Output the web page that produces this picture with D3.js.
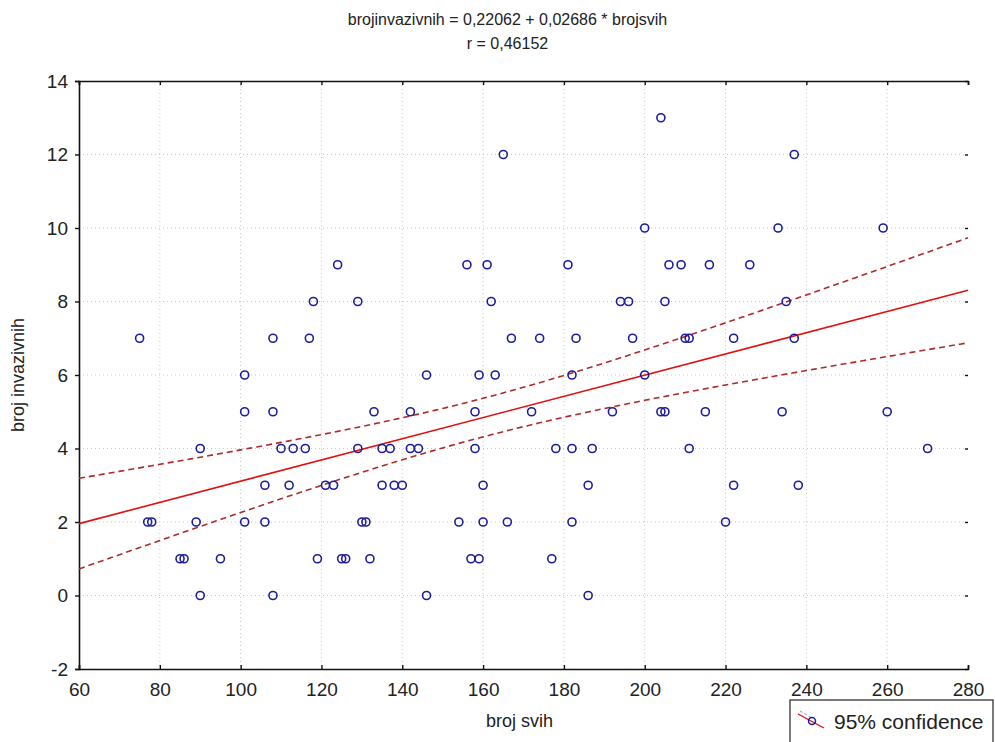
<!DOCTYPE html>
<html>
<head>
<meta charset="utf-8">
<script src="https://cdn.jsdelivr.net/npm/d3@7"></script>
<style>
  body { margin: 0; background: #fff; }
  text { font-family: "Liberation Sans", Arial, sans-serif; fill: #222; }
</style>
</head>
<body>
<script>
// broj svih (x) / broj invazivnih (y)
var brojSvih = [204,
	165, 237,
	200, 233, 259,
	124, 156, 161, 181, 206, 209, 216, 226,
	118, 129, 162, 194, 196, 205, 235,
	75, 108, 117, 167, 174, 183, 197, 210, 211, 222, 237,
	101, 146, 159, 163, 182, 200,
	101, 108, 133, 142, 158, 172, 192, 204, 205, 215, 234, 260,
	90, 110, 113, 116, 129, 135, 137, 142, 144, 158, 178, 182, 187, 211, 270,
	106, 112, 121, 123, 135, 138, 140, 160, 186, 222, 238,
	77, 78, 89, 101, 106, 130, 131, 154, 160, 166, 182, 220,
	85, 86, 95, 119, 125, 126, 132, 157, 159, 177,
	90, 108, 146, 186];
var brojInvazivnih = [13,
	12, 12,
	10, 10, 10,
	9, 9, 9, 9, 9, 9, 9, 9,
	8, 8, 8, 8, 8, 8, 8,
	7, 7, 7, 7, 7, 7, 7, 7, 7, 7, 7,
	6, 6, 6, 6, 6, 6,
	5, 5, 5, 5, 5, 5, 5, 5, 5, 5, 5, 5,
	4, 4, 4, 4, 4, 4, 4, 4, 4, 4, 4, 4, 4, 4, 4,
	3, 3, 3, 3, 3, 3, 3, 3, 3, 3, 3,
	2, 2, 2, 2, 2, 2, 2, 2, 2, 2, 2, 2,
	1, 1, 1, 1, 1, 1, 1, 1, 1, 1,
	0, 0, 0, 0];
var xTicks = [60, 80, 100, 120, 140, 160, 180, 200, 220, 240, 260, 280];
var yTicks = [-2, 0, 2, 4, 6, 8, 10, 12, 14];
var titleLines = ["brojinvazivnih = 0,22062 + 0,02686 * brojsvih", "r = 0,46152"];

var W = 995, H = 742;
var margin = {top: 81, right: 27, bottom: 73, left: 79};
var width = W - margin.left - margin.right,
	height = H - margin.top - margin.bottom;

var svg = d3.select("body").append("svg")
	.attr("width", W)
	.attr("height", H);

var x = d3.scaleLinear().domain([60, 280]).range([margin.left, margin.left + width]);
var y = d3.scaleLinear().domain([-2, 14]).range([margin.top + height, margin.top]);
var plain = function(d) { return String(d); };

// grid
svg.append("g").selectAll("line")
	.data(xTicks.slice(1, -1))
	.enter().append("line")
	.attr("x1", function(d) { return x(d); })
	.attr("x2", function(d) { return x(d); })
	.attr("y1", y(14)).attr("y2", y(-2))
	.attr("stroke", "#c8c8c8").attr("stroke-dasharray", "1,3");
svg.append("g").selectAll("line")
	.data(yTicks.slice(1, -1))
	.enter().append("line")
	.attr("x1", x(60)).attr("x2", x(280))
	.attr("y1", function(d) { return y(d); })
	.attr("y2", function(d) { return y(d); })
	.attr("stroke", "#c8c8c8").attr("stroke-dasharray", "1,3");

// axes
var axBottom = svg.append("g")
	.attr("transform", "translate(0," + y(-2) + ")")
	.call(d3.axisBottom(x).tickValues(xTicks).tickSize(-4).tickPadding(18).tickFormat(plain));
var axTop = svg.append("g")
	.attr("transform", "translate(0," + y(14) + ")")
	.call(d3.axisTop(x).tickValues(xTicks).tickSize(-4).tickFormat(""));
var axLeft = svg.append("g")
	.attr("transform", "translate(" + x(60) + ",0)")
	.call(d3.axisLeft(y).tickValues(yTicks).tickSize(4).tickPadding(7).tickFormat(plain));
var axRight = svg.append("g")
	.attr("transform", "translate(" + x(280) + ",0)")
	.call(d3.axisRight(y).tickValues(yTicks).tickSize(-3).tickFormat(""));
axRight.select(".domain").remove();
[axBottom, axTop, axLeft].forEach(function(a) {
	a.select(".domain").attr("stroke", "#111").attr("stroke-width", 1.6);
});
svg.selectAll(".tick line").attr("stroke", "#111").attr("stroke-width", 1.4);
svg.selectAll(".tick text")
	.style("font-family", "'Liberation Sans', Arial, sans-serif")
	.style("font-size", "19px")
	.attr("fill", "#333");
axBottom.selectAll(".tick text").attr("dy", "0.45em");

// regression + 95% confidence computed from the points
var n = brojSvih.length;
var mx = d3.mean(brojSvih), my = d3.mean(brojInvazivnih);
var sxx = 0, sxy = 0;
for (var i = 0; i < n; i++) {
	sxx += (brojSvih[i] - mx) * (brojSvih[i] - mx);
	sxy += (brojSvih[i] - mx) * (brojInvazivnih[i] - my);
}
var b1 = sxy / sxx, b0 = my - b1 * mx;
var sse = 0;
for (var i = 0; i < n; i++) {
	var e = brojInvazivnih[i] - (b0 + b1 * brojSvih[i]);
	sse += e * e;
}
var s = Math.sqrt(sse / (n - 2)), tval = 1.984;
var grid = d3.range(60, 280.01, 2);
function band(sign) {
	return grid.map(function(v) {
		var h = tval * s * Math.sqrt(1 / n + (v - mx) * (v - mx) / sxx);
		return [v, b0 + b1 * v + sign * h];
	});
}
var line = d3.line()
	.x(function(d) { return x(d[0]); })
	.y(function(d) { return y(d[1]); });

svg.append("path")
	.datum([[60, b0 + b1 * 60], [280, b0 + b1 * 280]])
	.attr("d", line)
	.attr("fill", "none").attr("stroke", "#e01010").attr("stroke-width", 1.6);
[1, -1].forEach(function(sg) {
	svg.append("path")
		.datum(band(sg))
		.attr("d", line)
		.attr("fill", "none").attr("stroke", "#b02a2a").attr("stroke-width", 1.6)
		.attr("stroke-dasharray", "6,4");
});

// points
svg.append("g").selectAll("circle")
	.data(brojSvih)
	.enter().append("circle")
	.attr("cx", function(d) { return x(d); })
	.attr("cy", function(d, i) { return y(brojInvazivnih[i]); })
	.attr("r", 4)
	.attr("fill", "none")
	.attr("stroke", "#1c1c9c")
	.attr("stroke-width", 1.6);

// titles
svg.append("g").selectAll("text")
	.data(titleLines)
	.enter().append("text")
	.attr("x", W / 2 + 10)
	.attr("y", function(d, i) { return 25 + i * 24; })
	.attr("text-anchor", "middle")
	.style("font-size", "16px")
	.text(function(d) { return d; });

svg.append("text")
	.attr("x", x(169)).attr("y", 727)
	.attr("text-anchor", "middle")
	.style("font-size", "18px")
	.text("broj svih");
svg.append("text")
	.attr("transform", "translate(24," + y(6) + ") rotate(-90)")
	.attr("text-anchor", "middle")
	.style("font-size", "18px")
	.text("broj invazivnih");

// legend
var lg = svg.append("g").attr("transform", "translate(790,700)");
lg.append("rect").attr("width", 203).attr("height", 46)
	.attr("fill", "#fff").attr("stroke", "#222").attr("stroke-width", 1.2);
lg.append("line").attr("x1", 8).attr("y1", 14).attr("x2", 34).attr("y2", 28)
	.attr("stroke", "#e01010").attr("stroke-width", 1.4);
lg.append("line").attr("x1", 10).attr("y1", 11).attr("x2", 22).attr("y2", 18)
	.attr("stroke", "#9090d0").attr("stroke-dasharray", "3,2");
lg.append("circle").attr("cx", 22).attr("cy", 21).attr("r", 3.5)
	.attr("fill", "none").attr("stroke", "#1c1c9c").attr("stroke-width", 1.5);
lg.append("text").attr("x", 44).attr("y", 29)
	.style("font-size", "21px")
	.text("95% confidence");
</script>
</body>
</html>
